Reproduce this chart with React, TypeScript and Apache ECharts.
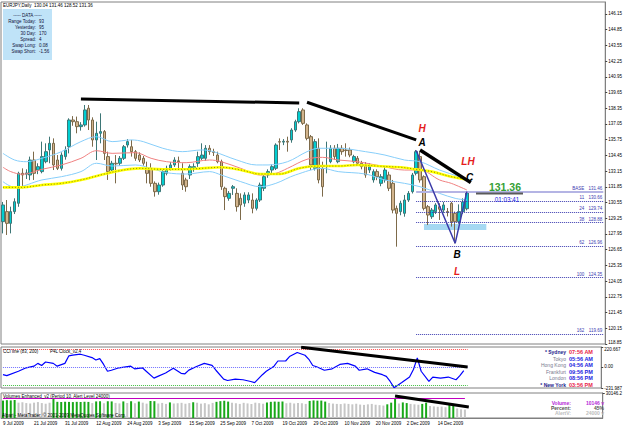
import React, { useEffect, useRef } from 'react';
import * as echarts from 'echarts';

const FONT = '"Liberation Sans", Arial, sans-serif';
const N_BARS = 120;
const N_SLOTS = 155;
const MONTHS = ['Jan', 'Feb', 'Mar', 'Apr', 'May', 'Jun', 'Jul', 'Aug', 'Sep', 'Oct', 'Nov', 'Dec'];
const START = [2009, 6, 9];

const opens = [128.97,129.80,128.83,129.80,130.49,132.97,132.90,132.83,134.07,133.24,
133.11,133.93,134.90,135.45,134.07,133.38,134.35,135.17,137.38,137.24,
136.83,136.97,138.35,137.38,135.73,136.28,136.42,134.35,133.24,133.80,
133.80,134.21,135.31,135.17,134.76,134.48,134.21,133.38,133.38,132.14,
131.45,132.00,132.97,133.38,133.66,134.00,132.97,132.42,132.83,133.30,
133.80,134.21,134.21,135.04,134.76,134.48,133.93,131.73,130.90,131.73,
131.31,130.90,130.49,130.76,130.76,130.07,130.76,131.73,132.83,133.24,
133.38,135.59,135.55,135.62,135.73,136.55,137.24,138.21,136.97,136.00,
133.38,135.04,133.38,133.52,133.93,135.04,133.93,135.04,134.90,134.90,
133.93,134.21,133.80,133.66,133.24,132.42,133.11,132.14,132.42,132.83,
132.14,130.07,129.80,129.66,130.76,131.45,132.97,134.35,132.69,130.21,
129.38,129.80,130.21,129.93,129.80,130.49,129.66,128.97,129.80,130.04];
const highs = [130.60,130.76,130.21,130.90,133.10,133.38,133.30,134.35,134.76,133.80,
135.59,135.45,136.00,135.86,134.48,134.70,135.20,137.52,137.70,137.66,
137.20,138.62,138.62,137.60,137.24,137.93,136.55,134.76,134.00,134.48,
134.40,135.31,135.80,135.73,134.90,134.70,134.40,133.93,133.80,132.30,
132.20,133.30,133.60,133.90,134.30,134.35,133.80,132.60,133.70,133.80,
134.76,135.45,135.30,135.30,135.00,134.76,134.10,131.86,131.50,132.00,
131.73,131.31,131.40,131.40,131.31,130.90,132.20,132.90,133.30,133.70,
135.45,135.86,135.80,136.00,136.70,137.40,138.35,138.35,137.10,136.14,
135.80,135.86,133.93,135.59,135.30,135.30,135.40,135.30,135.45,135.10,
134.50,134.40,134.00,133.90,133.80,133.30,133.30,132.90,133.50,133.10,
132.42,130.30,130.70,131.18,131.50,133.00,134.90,134.76,132.80,130.35,
130.10,130.50,130.49,130.60,130.10,130.60,129.80,130.40,130.90,131.46];
const lows = [128.00,127.87,128.00,129.60,130.20,131.73,132.50,132.40,132.42,132.90,
132.97,133.80,133.80,133.24,133.24,133.20,134.10,134.62,136.90,136.28,
136.50,136.83,136.55,135.17,134.07,135.45,134.07,132.42,133.00,132.14,
133.60,134.07,135.10,134.35,134.00,133.90,133.60,132.14,131.86,131.04,
131.20,131.86,132.80,133.20,133.50,133.24,131.59,131.45,132.50,133.10,
133.50,134.07,134.00,134.50,134.40,133.80,131.60,129.93,130.70,131.18,
129.80,129.11,130.20,130.50,129.66,129.90,130.60,131.50,132.60,132.97,
133.24,134.90,135.30,134.76,135.50,136.40,137.10,136.97,135.70,133.24,
133.20,132.14,131.04,132.97,133.80,134.10,133.80,134.50,134.35,134.30,
133.80,133.60,133.30,132.60,133.00,132.20,132.40,131.90,132.20,131.50,
129.66,126.90,129.50,129.38,130.60,131.30,132.80,132.20,129.90,128.69,
129.20,129.60,129.11,129.70,129.40,128.56,127.18,128.80,129.60,129.90];
const closes = [130.35,128.83,129.80,130.62,132.97,132.83,133.00,134.07,132.97,133.52,
134.35,134.76,135.45,133.66,133.38,134.48,134.90,137.38,137.24,136.83,
136.97,138.21,137.38,135.73,136.28,136.42,134.62,133.11,133.80,133.75,
134.21,135.17,135.59,134.76,134.21,134.07,133.80,132.97,132.14,131.45,
132.00,133.11,133.38,133.66,134.07,133.93,132.00,131.86,133.52,133.52,
134.35,134.48,135.04,134.76,134.70,133.93,131.86,131.04,131.31,131.86,
130.21,130.35,131.18,131.18,130.07,130.76,132.00,132.69,133.11,133.52,
135.31,135.55,135.62,135.55,136.55,137.24,138.07,137.10,135.86,133.66,
135.59,132.42,131.86,133.60,135.04,134.35,135.04,134.76,134.85,134.48,
134.35,133.80,133.52,132.83,133.52,133.11,132.69,132.69,133.24,131.73,
129.93,129.66,130.49,130.76,131.31,132.83,134.76,132.42,130.07,129.52,
129.93,130.35,130.00,130.35,129.75,128.97,128.97,129.80,130.60,131.36];

const upperBand = [[0,134.62],[3,134.07],[6,133.93],[10,134.21],[15,134.76],[20,135.59],[24,136.0],[28,135.59],[33,135.73],[36,135.59],[41,135.04],[46,134.76],[51,134.9],[54,134.76],[60,134.07],[65,133.66],[68,133.66],[73,133.93],[78,134.76],[81,135.04],[86,135.04],[93,134.76],[98,134.48],[103,134.07],[107,133.93],[112,133.24],[117,132.69],[119,132.42]];
const middleLine = [[0,133.47],[2,133.11],[5,132.89],[10,133.3],[15,133.66],[20,134.21],[24,134.84],[28,134.62],[34,134.68],[38,134.21],[42,133.93],[47,133.85],[53,134.07],[56,133.93],[61,133.38],[66,132.83],[70,132.97],[73,133.38],[78,134.13],[82,134.29],[86,134.07],[91,133.93],[97,133.57],[103,133.24],[107,133.24],[112,132.42],[115,132.14],[119,131.59]];
const lowerBand = [[0,132.28],[3,131.81],[10,132.42],[15,132.69],[20,133.11],[24,133.8],[28,133.57],[34,133.66],[38,133.38],[42,133.02],[47,132.91],[53,133.11],[56,132.83],[61,132.28],[66,131.86],[70,132.14],[75,132.83],[82,133.38],[86,133.11],[93,132.91],[98,132.42],[103,132.14],[107,131.86],[112,131.31],[116,130.9],[119,130.76]];
const slowMA = [[0,131.81],[5,131.81],[10,132.0],[15,132.14],[20,132.42],[25,132.83],[30,133.19],[35,133.38],[41,133.3],[46,133.3],[51,133.38],[56,133.47],[61,133.24],[66,132.91],[71,132.91],[76,133.38],[81,133.57],[86,133.57],[91,133.66],[96,133.57],[102,133.47],[106,133.3],[110,133.11],[115,132.69],[119,132.47]];

const trendTop = [[20,139.12],[76,138.79]];
const trendMid = [[78,138.85],[106,135.73]];
const trendLH = [[107,134.9],[120,132.2]];
const abcPoints = [[106,134.85],[116,127.18],[119,131.46]];
const fibNames = ['BASE','11','24','38','62','100','162'];
const fibLevels = [131.46,130.66,129.74,128.88,126.96,124.35,119.69];
const fibStart = 106;
const bandZone = [[108,128.78],[124,128.28]];

const priceTicks = [118.85,120.15,121.45,122.75,124.05,125.35,126.65,127.95,129.25,130.55,131.85,133.15,134.45,135.75,137.05,138.35,139.65,140.95,142.25,143.55,144.85,146.15];
const PRICE_MIN = 118.85;
const PRICE_MAX = 147.14;

const cciValues = [[0,-85],[1,-96],[4,-47],[6,-9],[8,9],[9,40],[10,17],[11,55],[13,40],[14,9],[16,40],[17,122],[18,130],[20,141],[21,130],[23,104],[24,77],[25,93],[26,28],[27,-47],[28,-36],[30,-9],[33,9],[34,-20],[36,-9],[37,-47],[39,-123],[40,-104],[42,-66],[44,-15],[46,-70],[47,-75],[48,-35],[50,5],[52,40],[54,17],[55,-36],[57,-134],[58,-149],[60,-134],[62,-141],[64,-160],[65,-172],[67,-85],[68,-47],[70,9],[71,66],[73,66],[74,115],[76,160],[78,130],[79,85],[80,17],[81,2],[83,-36],[85,-20],[87,28],[89,40],[91,9],[92,-36],[94,-20],[96,-59],[98,-85],[99,-104],[100,-160],[101,-228],[103,-172],[105,-111],[106,-28],[107,100],[108,-47],[110,-160],[111,-111],[113,-123],[115,-111],[117,-141],[118,-96],[119,-40]];
const cciTicks = [-231.987, 0, 220.667];
const cciLevels = [200, 0, -200];
const cciTrend = [[77,218],[120,0]];

const volumes = [21000,21500,21200,21700,18500,19000,18000,17500,18500,19200,
18000,17200,18400,24500,19500,19300,19600,19400,19200,19500,
19300,19600,19400,18000,20000,20200,17800,20200,20000,18200,
17600,20000,18000,20200,17800,19800,18500,17300,20500,20300,
17500,18200,17000,18800,17500,17800,18300,17200,18000,19000,
18400,17300,17900,16500,18200,19500,20300,20800,19800,18400,
17800,17000,18300,17600,16900,18500,17900,17200,18700,19500,
19800,19600,19900,17800,18400,17500,18100,17800,17000,20600,
21200,20900,21000,19800,18000,17400,17000,16800,17500,17000,
16500,17200,16200,15800,16500,17000,16000,15500,15000,16500,
18500,23500,17500,18800,18000,17000,16500,16000,17000,18500,
14500,14000,13500,13800,13000,16500,17000,11500,10500,10146];
const volumeUp = [1,1,1,1,0,0,0,0,0,0, 0,0,0,1,1,1,1,1,1,1, 1,1,1,0,1,1,0,1,1,0, 0,1,0,1,0,1,0,0,1,1,
0,0,0,1,0,0,0,0,0,1, 0,0,0,0,0,1,1,1,1,0, 0,0,0,0,0,0,0,0,1,1, 1,1,1,0,0,0,0,0,0,1,
1,1,1,1,0,0,0,0,0,0, 0,0,0,0,0,0,0,0,0,1, 1,1,0,1,1,0,0,0,1,1, 0,0,0,0,0,1,1,0,0,0];
const VOL_MAX = 30146.2;
const ALERT_LEVEL = 24000;
const volTrend = [[101,26500],[120,13260]];

const dataBoxRows = [['Range Today:','93'],['Yesterday:','95'],['30 Day:','170'],['Spread:','4'],['Swap Long:','0.08'],['Swap Short:','-1.56']];
const clockNames = ['* Sydney','Tokyo','Hong Kong','Frankfurt','London','* New York'];
const clockTimes = ['07:56 AM','05:56 AM','04:56 AM','09:56 PM','08:56 PM','03:56 PM'];
const clockMain = [true,false,false,false,false,true];
const volInfo = [['Volume:','10146 v','#b52ad6'],['Percent:','45%','#555555'],['AlertV:','24000 v','#bdbdbd']];

function tradingDates(n: number): string[] {
  const d = new Date(Date.UTC(START[0], START[1], START[2]));
  const out: string[] = [];
  while (out.length < n) {
    const wd = d.getUTCDay();
    if (wd !== 0 && wd !== 6) out.push(`${d.getUTCDate()} ${MONTHS[d.getUTCMonth()]} ${d.getUTCFullYear()}`);
    d.setUTCDate(d.getUTCDate() + 1);
  }
  return out;
}

const txt = (x: number, y: number, text: string, o: any = {}) => ({
  type: 'text', x, y, silent: true, z: 100,
  style: {
    text, fill: o.fill || '#000', fontSize: o.size || 4.5, fontFamily: FONT,
    fontWeight: o.weight || 'normal', fontStyle: o.italic ? 'italic' : 'normal',
    align: o.align || 'left', verticalAlign: 'middle',
  },
});

export default function App() {
  const ref = useRef<HTMLDivElement>(null);
  useEffect(() => {
    if (!ref.current) return;
    const chart = echarts.init(ref.current, null, { renderer: 'svg' });
    const dates = tradingDates(N_BARS);
    const categories = dates.concat(Array.from({ length: N_SLOTS - N_BARS }, (_, k) => `pad-${k}`));
    const candleData = opens.map((o, i) => [o, closes[i], lows[i], highs[i]]);
    const lastClose = closes[N_BARS - 1];

    const line = (data: any, color: string, width: number, extra: any = {}) => ({
      type: 'line', xAxisIndex: 0, yAxisIndex: 0, data, symbol: 'none', smooth: 0.35,
      lineStyle: { color, width }, silent: true, z: 3, ...extra,
    });
    const trend = (data: any, width: number, gi = 0) => ({
      type: 'line', xAxisIndex: gi, yAxisIndex: gi, data, symbol: 'none', silent: true, z: 6,
      lineStyle: { color: '#000', width },
    });

    const fibData = fibLevels.map((lvl, k) => [
      {
        coord: [fibStart, lvl],
        name: `{n|${fibNames[k]}}{p|${lvl.toFixed(2)}}`,
        lineStyle: k === 0 ? { color: '#b4b4e4', width: 2, type: 'solid' } : { color: '#3a3ab0', width: 1, type: 'dotted' },
      },
      { coord: [N_SLOTS - 1, lvl] },
    ]);

    const graphics: any[] = [];
    graphics.push(txt(3, 5, 'EURJPY,Daily  130.04 131.46 128.52 131.36'));
    graphics.push({ type: 'rect', shape: { x: 3, y: 9, width: 49, height: 51 }, style: { fill: '#bfe3f8' }, z: 99, silent: true });
    graphics.push(txt(27.5, 15, '----- DATA -----', { align: 'center', fill: '#10103a' }));
    dataBoxRows.forEach((r, k) => {
      graphics.push(txt(36, 21.3 + k * 6, r[0], { align: 'right', fill: '#10103a' }));
      graphics.push(txt(39, 21.3 + k * 6, r[1], { fill: '#10103a' }));
    });
    graphics.push(txt(422, 128.5, 'H', { size: 10, weight: 'bold', italic: true, fill: '#e51c1c', align: 'center' }));
    graphics.push(txt(422, 142.5, 'A', { size: 10, weight: 'bold', italic: true, align: 'center' }));
    graphics.push(txt(468, 161.5, 'LH', { size: 10, weight: 'bold', italic: true, fill: '#e51c1c', align: 'center' }));
    graphics.push(txt(469.5, 177, 'C', { size: 10, weight: 'bold', italic: true, align: 'center' }));
    graphics.push(txt(457, 254, 'B', { size: 10, weight: 'bold', italic: true, align: 'center' }));
    graphics.push(txt(457, 271, 'L', { size: 10, weight: 'bold', italic: true, fill: '#e51c1c', align: 'center' }));
    graphics.push({ type: 'line', shape: { x1: 476, y1: 193.5, x2: 523, y2: 193.5 }, style: { stroke: '#5a5a5a', lineWidth: 2 }, silent: true, z: 99 });
    graphics.push(txt(505, 187, lastClose.toFixed(2), { size: 10.5, weight: 'bold', fill: '#35a035', align: 'center' }));
    graphics.push(txt(507, 199, '01:03:41', { size: 6.3, fill: '#2020e0', align: 'center' }));
    graphics.push(txt(3, 351, 'CCI line (83, 200)'));
    graphics.push(txt(50, 351, 'P4L Clock_v2.4'));
    clockNames.forEach((nm, k) => {
      const y = 352 + k * 6.5;
      graphics.push(txt(566, y, nm, { align: 'right', size: 5, weight: clockMain[k] ? 'bold' : 'normal', fill: clockMain[k] ? '#1c1c8c' : '#7a7a90' }));
      graphics.push(txt(569, y, clockTimes[k], { size: 5.5, weight: 'bold', fill: clockMain[k] ? '#e8244a' : '#2222e0' }));
    });
    graphics.push(txt(3, 396, 'Volumes Enhanced_v2 (Period 10, Alert Level 24000)'));
    graphics.push(txt(2, 415.5, 'Alpari - MetaTrader, \u00a9 2001-2009 MetaQuotes Software Corp.'));
    volInfo.forEach((r, k) => {
      const y = 402.5 + k * 5.3;
      graphics.push(txt(571, y, r[0], { align: 'right', size: 5, weight: 'bold', fill: r[2] }));
      graphics.push(txt(604, y, r[1], { align: 'right', size: 5, weight: 'bold', fill: r[2] }));
    });

    const yLabel = { fontSize: 4.5, color: '#000', margin: 3, fontFamily: FONT };

    chart.setOption({
      animation: false,
      backgroundColor: '#ffffff',
      textStyle: { fontFamily: FONT },
      grid: [
        { left: 1, top: 2, width: 605, height: 342, show: true, borderColor: '#808080', borderWidth: 1, backgroundColor: '#fff' },
        { left: 1, top: 347, width: 605, height: 41, show: true, borderColor: '#808080', borderWidth: 1 },
        { left: 1, top: 393, width: 605, height: 25, show: true, borderColor: '#808080', borderWidth: 1 },
      ],
      xAxis: [0, 1, 2].map((g) => ({
        type: 'category', gridIndex: g, data: categories, boundaryGap: true,
        axisLine: { show: g === 2, lineStyle: { color: '#808080' } },
        axisTick: { show: false },
        splitLine: { show: false },
        axisLabel: g === 2
          ? { show: true, interval: (i: number) => i < N_BARS && i % 8 === 0, align: 'left', fontSize: 4.5, color: '#000', margin: 3, fontFamily: FONT }
          : { show: false },
      })),
      yAxis: [
        {
          type: 'value', gridIndex: 0, position: 'right', min: PRICE_MIN, max: PRICE_MAX,
          axisLine: { show: true, lineStyle: { color: '#808080' } },
          axisTick: { show: true, length: 2, customValues: priceTicks, lineStyle: { color: '#404040' } },
          axisLabel: {
            ...yLabel, customValues: priceTicks,
            formatter: (v: number) => (v === PRICE_MIN ? `{b|${v.toFixed(2)}}` : v.toFixed(2)),
            rich: { b: { fontSize: 4.5, color: '#000', padding: [0, 0, 3, 0], fontFamily: FONT } },
          },
          splitLine: { show: false },
        },
        {
          type: 'value', gridIndex: 1, position: 'right', min: cciTicks[0], max: cciTicks[2],
          axisLine: { show: true, lineStyle: { color: '#808080' } },
          axisTick: { show: true, length: 2, customValues: cciTicks, lineStyle: { color: '#404040' } },
          axisLabel: {
            ...yLabel, customValues: cciTicks,
            formatter: (v: number) => (v === 0 ? '0.00' : v === cciTicks[2] ? `{t|${v.toFixed(3)}}` : v.toFixed(3)),
            rich: { t: { fontSize: 4.5, color: '#000', padding: [4, 0, 0, 0], fontFamily: FONT } },
          },
          splitLine: { show: false },
        },
        {
          type: 'value', gridIndex: 2, position: 'right', min: 0, max: VOL_MAX,
          axisLine: { show: true, lineStyle: { color: '#808080' } },
          axisTick: { show: true, length: 2, customValues: [VOL_MAX], lineStyle: { color: '#404040' } },
          axisLabel: { ...yLabel, customValues: [VOL_MAX], formatter: (v: number) => v.toFixed(1) },
          splitLine: { show: false },
        },
      ],
      series: [
        {
          type: 'candlestick', name: 'EURJPY', xAxisIndex: 0, yAxisIndex: 0, data: candleData, barWidth: 3, z: 2,
          itemStyle: { color: '#00ced1', color0: '#d2b48c', borderColor: '#3d7676', borderColor0: '#7d6a4a', borderWidth: 1 },
          markLine: {
            silent: true, symbol: ['none', 'none'], animation: false,
            data: [{ yAxis: lastClose, lineStyle: { opacity: 0 }, label: { show: true, position: 'end', distance: 1, formatter: lastClose.toFixed(2), backgroundColor: '#000', color: '#fff', fontSize: 4.5, padding: [1, 2], fontFamily: FONT } }],
          },
        },
        line(upperBand, '#87cefa', 1),
        line(lowerBand, '#87cefa', 1),
        line(middleLine, '#f08080', 1),
        line(slowMA, '#ffff00', 2.6, { z: 4 }),
        line(slowMA, '#6a6a00', 0.8, { z: 4, lineStyle: { color: '#6a6a00', width: 0.8, type: [1, 2] } }),
        trend(trendTop, 3),
        trend(trendMid, 3),
        trend(trendLH, 3.5),
        {
          type: 'line', xAxisIndex: 0, yAxisIndex: 0, data: abcPoints, symbol: 'rect', symbolSize: 3.5, z: 5, silent: true,
          lineStyle: { color: '#3b3ba8', width: 1.5 }, itemStyle: { color: '#3b3ba8' },
          markLine: {
            silent: true, symbol: ['none', 'none'], animation: false,
            label: {
              show: true, position: 'insideEndTop', distance: 1, formatter: (p: any) => p.name, fontFamily: FONT,
              rich: { n: { width: 18, align: 'right', fontSize: 4.5, color: '#3a3ab0' }, p: { width: 18, align: 'right', fontSize: 4.5, color: '#3a3ab0' } },
            },
            data: fibData,
          },
          markArea: {
            silent: true,
            data: [[{ coord: bandZone[0], itemStyle: { color: '#a5d8f2' } }, { coord: bandZone[1] }]],
          },
        },
        {
          type: 'line', xAxisIndex: 1, yAxisIndex: 1, data: cciValues, symbol: 'none', silent: true, z: 3,
          lineStyle: { color: '#0000ff', width: 1.2 },
          markLine: {
            silent: true, symbol: ['none', 'none'], label: { show: false }, animation: false,
            data: cciLevels.map((lv, k) => [
              { coord: [0, lv], lineStyle: { color: ['#ff5050', '#7070ff', '#40c040'][k], width: 1, type: 'dotted' } },
              { coord: [N_BARS, lv] },
            ]),
          },
        },
        trend(cciTrend, 3, 1),
        {
          type: 'bar', xAxisIndex: 2, yAxisIndex: 2, barWidth: 2, silent: true,
          data: volumes.map((v, i) => ({ value: v, itemStyle: { color: volumeUp[i] ? '#18a818' : '#c6c6c6' } })),
          markLine: {
            silent: true, symbol: ['none', 'none'], label: { show: false }, animation: false,
            data: [[{ coord: [0, ALERT_LEVEL], lineStyle: { color: '#c000c0', width: 1, type: 'solid' } }, { coord: [N_BARS - 1, ALERT_LEVEL] }]],
          },
        },
        trend(volTrend, 3, 2),
      ],
      graphic: graphics,
    });
    return () => chart.dispose();
  }, []);
  return <div ref={ref} style={{ position: 'fixed', left: 0, top: 0, width: 625, height: 429, background: '#fff' }} />;
}
